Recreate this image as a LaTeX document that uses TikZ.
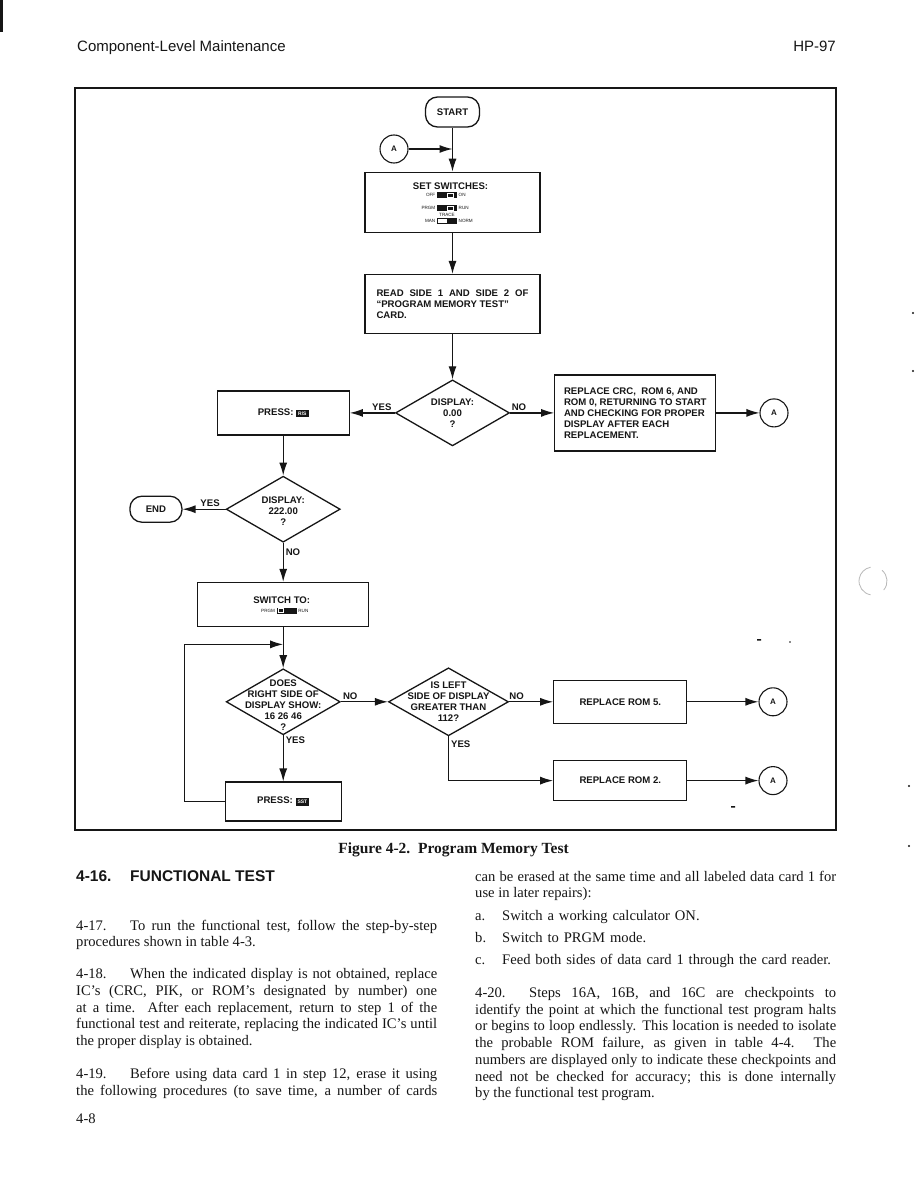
\documentclass[tikz,border=0pt]{standalone}
\usepackage{fontspec}
\setmainfont{Liberation Serif}
\newfontfamily\helv{Liberation Sans}
\usepackage{tikz}
\usetikzlibrary{positioning, arrows.meta, calc, shapes.geometric}
\usepackage{xcolor}
\definecolor{hpInk}{HTML}{161616}
\definecolor{hpScan}{HTML}{B8B8B8}
\tolerance=10000
\hyphenpenalty=10000
\exhyphenpenalty=10000

\newcommand{\keycap}[1]{{\setlength{\fboxsep}{2pt}\colorbox{hpInk}{\textcolor{white}{\fontsize{5}{6}\selectfont #1}}}}

\begin{document}
\begin{tikzpicture}[
    x=1pt, y=-1pt,
    chart/.style={font=\helv\bfseries\fontsize{9.6}{11}\selectfont, text=hpInk},
    box/.style={rectangle, draw=hpInk, line width=1.3pt, inner sep=2pt, chart},
    term/.style={rectangle, rounded corners=12pt, draw=hpInk, line width=1.3pt, minimum width=54pt, minimum height=30pt, chart},
    conn/.style={circle, draw=hpInk, line width=1.1pt, minimum size=28pt, inner sep=0pt, text=hpInk, font=\helv\bfseries\fontsize{8}{9}\selectfont},
    decision/.style={diamond, draw=hpInk, line width=1.3pt, inner sep=0pt},
    dtext/.style={chart, align=center, inner sep=0pt},
    flow/.style={-{Latex[length=13pt,width=8pt]}, line width=1.2pt, draw=hpInk},
    lbl/.style={chart, inner sep=2pt},
    swlbl/.style={font=\helv\fontsize{4.6}{5}\selectfont, inner sep=0pt, text=hpInk},
    body/.style={font=\fontsize{14.6}{16.7}\selectfont, text width=361pt, align=justify, inner sep=0pt, anchor=base west, text=hpInk},
    head/.style={font=\helv\fontsize{15}{18}\selectfont, inner sep=0pt, text=hpInk},
  ]

  % --- PAGE ---
  \path[use as bounding box, fill=white] (0,0) rectangle (918,1188);
  \fill[hpInk] (0,0) rectangle (3,32);
  \node[head, anchor=base west] (runhead) at (77,52) {Component-Level Maintenance};
  \node[head, anchor=base east] (model) at (836,52) {HP-97};
  \draw[hpInk, line width=1.2pt] (75,88) rectangle (836,830);

  % --- MAIN COLUMN ---
  \node[term] (start) at (452.5,112) {START};
  \node[conn] (a0) at (394,149) {A};
  \node[box, below=44pt of start, minimum width=175pt, minimum height=60pt] (set) {};
  \node[box, below=41pt of set, minimum width=175pt, minimum height=59pt, text width=152pt, align=justify]
    (read) {READ SIDE 1 AND SIDE 2 OF\linebreak “PROGRAM MEMORY TEST”\\ CARD.};
  \node[decision, below=45pt of read, minimum width=114pt, minimum height=66pt,
        label={[dtext]center:{DISPLAY:\\0.00\\?}}] (d1) {};

  \coordinate (ajoin) at (start.south |- a0.east);
  \draw[flow] (start) -- (set);
  \draw[flow] (a0) -- (ajoin);
  \draw[flow] (set) -- (read);
  \draw[flow] (read) -- (d1);

  % --- FIRST TEST ---
  \node[box, left=45pt of d1, minimum width=132pt, minimum height=44pt] (press1) {PRESS: \keycap{R/S}};
  \node[box, right=44pt of d1, minimum width=161pt, minimum height=76pt, align=left, inner xsep=8pt]
    (crc) {REPLACE CRC,\ \ ROM 6, AND\\ ROM 0, RETURNING TO START\\ AND CHECKING FOR PROPER\\ DISPLAY AFTER EACH\\ REPLACEMENT.};
  \node[conn, right=43pt of crc] (a1) {A};

  \draw[flow] (d1) -- node[lbl, above, pos=0.29] (y1) {YES} (press1);
  \draw[flow] (d1) -- node[lbl, above, pos=0.2] (n1) {NO} (crc);
  \draw[flow] (crc) -- (a1);

  % --- SECOND TEST ---
  \node[decision, below=40pt of press1, minimum width=114pt, minimum height=66pt,
        label={[dtext, yshift=-2pt]center:{DISPLAY:\\222.00\\?}}] (d2) {};
  \node[term, left=43pt of d2, minimum width=52pt, minimum height=26pt] (finish) {END};
  \node[box, below=39pt of d2, minimum width=171pt, minimum height=44pt] (switch) {};

  \draw[flow] (press1) -- (d2);
  \draw[flow] (d2) -- node[lbl, above, pos=0.36] (y2) {YES} (finish);
  \draw[flow] (d2) -- node[lbl, right, pos=0.23] (n2) {NO} (switch);

  % --- SWITCH SETTINGS ---
  \begin{scope}[shift={(set.center)}]
    \node[chart] (settitle) at (-2,-16) {SET SWITCHES:};
    \fill[hpInk] (-15.5,-10) rectangle (4.5,-4);
    \draw[white, line width=0.6pt] (-5,-9) rectangle (0.5,-5);
    \node[swlbl, anchor=east] (offlbl) at (-17,-7) {OFF};
    \node[swlbl, anchor=west] (onlbl) at (6,-7) {ON};
    \fill[hpInk] (-15.5,3) rectangle (4.5,9);
    \draw[white, line width=0.6pt] (-5,4) rectangle (0.5,8);
    \node[swlbl, anchor=east] (prgmlbl) at (-17,6) {PRGM};
    \node[swlbl, anchor=west] (runlbl) at (6,6) {RUN};
    \node[swlbl] (tracelbl) at (-5.5,13) {TRACE};
    \draw[hpInk, line width=0.8pt] (-15.5,16.5) rectangle (-5.5,21.5);
    \fill[hpInk] (-5.5,16) rectangle (4.5,22);
    \node[swlbl, anchor=east] (manlbl) at (-17,19) {MAN};
    \node[swlbl, anchor=west] (normlbl) at (6,19) {NORM};
  \end{scope}

  \begin{scope}[shift={(switch.center)}]
    \node[chart] (swtitle) at (-1.5,-4) {SWITCH TO:};
    \fill[hpInk] (-6.5,3) rectangle (13.5,9);
    \draw[white, line width=0.6pt] (-5,4) rectangle (0.5,8);
    \node[swlbl, anchor=east] (prgmlbl2) at (-8,6) {PRGM};
    \node[swlbl, anchor=west] (runlbl2) at (15,6) {RUN};
  \end{scope}

  % --- STEP LOOP ---
  \node[decision, below=41pt of switch, minimum width=114pt, minimum height=66pt,
        label={[dtext, yshift=-3pt]center:{DOES\\RIGHT SIDE OF\\DISPLAY SHOW:\\16 26 46\\?}}] (d3) {};
  \node[decision, right=47pt of d3, minimum width=120pt, minimum height=68pt,
        label={[dtext]center:{IS LEFT\\SIDE OF DISPLAY\\GREATER THAN\\112?}}] (d4) {};
  \node[box, right=44pt of d4, minimum width=133pt, minimum height=43pt] (rom5) {REPLACE ROM 5.};
  \node[box, below=36pt of rom5, minimum width=133pt, minimum height=40pt] (rom2) {REPLACE ROM 2.};
  \node[conn, right=71pt of rom5] (a2) {A};
  \node[conn, right=71pt of rom2] (a3) {A};
  \node[box, below=46pt of d3, minimum width=116pt, minimum height=39pt] (press2) {PRESS: \keycap{SST}};

  \coordinate (loopin) at ($(switch.south)!0.42!(d3.north)$);
  \draw[flow] (switch) -- (d3);
  \draw[flow] (press2.west) -- ++(-40,0) |- (loopin);
  \draw[flow] (d3) -- node[lbl, above, pos=0.2] (n3) {NO} (d4);
  \draw[flow] (d4) -- node[lbl, above, pos=0.17] (n4) {NO} (rom5);
  \draw[flow] (d4.south) |- node[lbl, right, pos=0.09] (y4) {YES} (rom2.west);
  \draw[flow] (d3) -- node[lbl, right, pos=0.11] (y3) {YES} (press2);
  \draw[flow] (rom5) -- (a2);
  \draw[flow] (rom2) -- (a3);

  % --- SCAN MARKS ---
  \draw[hpScan, line width=0.8pt] (873,581) ++(100:14) arc[start angle=100, end angle=260, radius=14];
  \draw[hpScan, line width=0.8pt] (873,581) ++(-50:14) arc[start angle=-50, end angle=40, radius=14];
  \fill[hpInk] (913,313) circle[radius=1.2] (913,371) circle[radius=1.2]
               (909,786) circle[radius=1.2] (909,846) circle[radius=1.2]
               (790,642) circle[radius=0.8];
  \fill[hpInk] (757,639) rectangle (761,640.5) (731,806) rectangle (735,807.5);

  % --- CAPTION AND TEXT ---
  \node[font=\bfseries\fontsize{15.5}{18}\selectfont, inner sep=0pt, anchor=base, text=hpInk]
    (caption) at (453.5,853) {Figure 4-2.\ \ Program Memory Test};
  \node[head, font=\helv\bfseries\fontsize{15.5}{18}\selectfont, anchor=base west]
    (p416) at (76,881) {\makebox[54pt][l]{4-16.}FUNCTIONAL TEST};

  \node[body] (p417) at (76,930.2) {\makebox[54pt][l]{4-17.}To run the functional test, follow the step-by-step\linebreak procedures shown in table 4-3.};
  \node[body] (p418) at (76,978.8) {\makebox[54pt][l]{4-18.}When the indicated display is not obtained, replace\linebreak IC’s (CRC, PIK, or ROM’s designated by number) one\linebreak at a time. After each replacement, return to step 1 of the\linebreak functional test and reiterate, replacing the indicated IC’s until\linebreak the proper display is obtained.};
  \node[body] (p419) at (76,1078.5) {\makebox[54pt][l]{4-19.}Before using data card 1 in step 12, erase it using\linebreak the following procedures (to save time, a number of cards\linebreak};
  \node[body, align=left] (folio) at (76,1123) {4-8};

  \node[body] (pcont) at (475,881.2) {can be erased at the same time and all labeled data card 1 for\linebreak use in later repairs):};
  \node[body, align=left, font=\fontsize{14.6}{22.2}\selectfont] (steps) at (475,920.5)
    {\makebox[27pt][l]{a.}Switch a working calculator ON.\\ \makebox[27pt][l]{b.}Switch to PRGM mode.\\ \makebox[27pt][l]{c.}Feed both sides of data card 1 through the card reader.};
  \node[body] (p420) at (475,997.5) {\makebox[54pt][l]{4-20.}Steps 16A, 16B, and 16C are checkpoints to\linebreak identify the point at which the functional test program halts\linebreak or begins to loop endlessly. This location is needed to isolate\linebreak the probable ROM failure, as given in table 4-4. The\linebreak numbers are displayed only to indicate these checkpoints and\linebreak need not be checked for accuracy; this is done internally\linebreak by the functional test program.};

\end{tikzpicture}
\end{document}
